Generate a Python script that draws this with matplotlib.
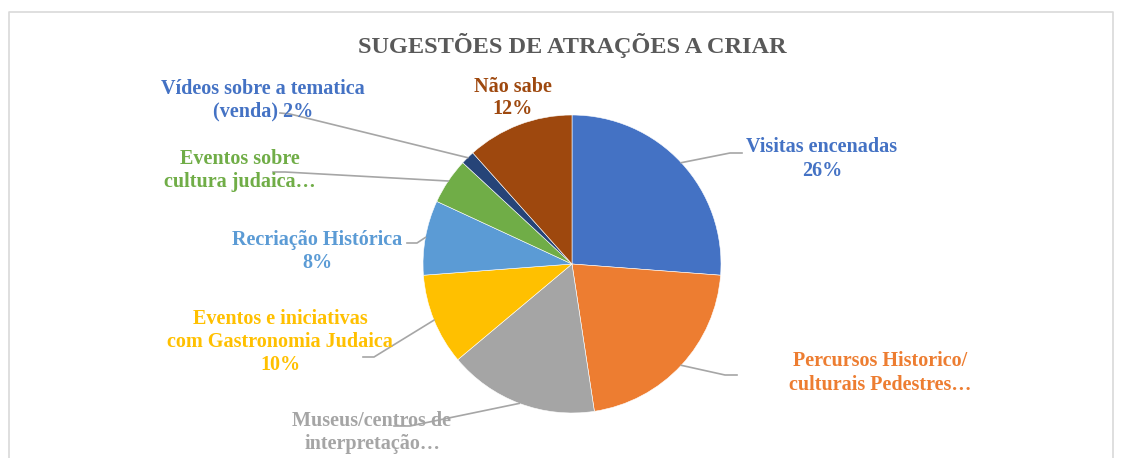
import matplotlib
matplotlib.use("Agg")
import matplotlib.pyplot as plt
import numpy as np

categories = ["Visitas encenadas", "Percursos Historico/\nculturais Pedestres…",
              "Museus/centros de\ninterpretação…", "Eventos e iniciativas\ncom Gastronomia Judaica",
              "Recriação Histórica", "Eventos sobre\ncultura judaica…",
              "Vídeos sobre a tematica\n(venda)", "Não sabe"]
values = [26.2, 21.4, 16.3, 9.9, 8.1, 5.0, 1.5, 11.6]
pct_text = ["\n26%", "", "", "\n10%", "\n8%", "", " 2%", "\n12%"]
colors = ["#4472C4", "#ED7D31", "#A5A5A5", "#FFC000", "#5B9BD5", "#70AD47", "#264478", "#9E480E"]
label_colors = ["#4472C4", "#ED7D31", "#A5A5A5", "#FFC000", "#5B9BD5", "#70AD47", "#4472C4", "#9E480E"]

W, H = 1122, 458
fig = plt.figure(figsize=(W / 100, H / 100), dpi=100)
ax = fig.add_axes([0, 0, 1, 1])

def py(y):
    return H - y

cx, cy, R = 572, py(264), 149
wedges, _ = ax.pie(values, colors=colors, startangle=90, counterclock=False,
                   center=(cx, cy), radius=R, frame=True,
                   wedgeprops=dict(edgecolor="white", linewidth=0.4))
ax.set_xlim(0, W)
ax.set_ylim(0, H)
ax.set_aspect("equal")
ax.axis("off")

# chart border
ax.plot([9, 9, 1113, 1113], [0, py(12), py(12), 0], color="#D9D9D9", lw=1.2)

# label layout: (text center x, text center y, elbow, end) in pixel coordinates
layout = [
    (822, 159, (730, 153), (742, 153)),
    (880, 373, (725, 375), (737, 375)),
    (372, 433, (410, 426), (394, 426)),
    (280, 342, (374, 357), (363, 357)),
    (317, 251, (417, 243), (407, 243)),
    (240, 171, (285, 172), (273, 172)),
    (263, 100, (290, 114), (280, 113)),
    (513, 98, None, None),
]

for w, cat, pct, col, (tx, ty, elbow, end) in zip(wedges, categories, pct_text, label_colors, layout):
    ang = np.deg2rad((w.theta1 + w.theta2) / 2)
    sx, sy = cx + R * np.cos(ang), cy + R * np.sin(ang)
    if elbow is not None:
        ax.plot([sx, elbow[0], end[0]], [sy, py(elbow[1]), py(end[1])],
                color="#A6A6A6", lw=1.2, zorder=3)
    ax.text(tx, py(ty), cat + pct, ha="center", va="center", color=col,
            fontsize=14.5, fontweight="bold", family="Liberation Serif",
            linespacing=1.2, zorder=4)

ax.text(572, py(46), "SUGESTÕES DE ATRAÇÕES A CRIAR", ha="center", va="center",
        color="#595959", fontsize=17.5, fontweight="bold", family="Liberation Serif")

fig.savefig("out.png", dpi=100)
